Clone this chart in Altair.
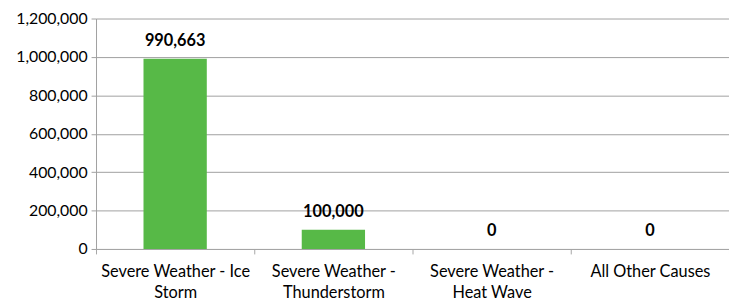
import altair as alt
import pandas as pd

categories = ["Severe Weather - Ice\nStorm", "Severe Weather -\nThunderstorm",
              "Severe Weather -\nHeat Wave", "All Other Causes"]
values = [990663, 100000, 0, 0]

df = pd.DataFrame({"cause": categories, "customers": values})

FONT = "Lato"
x = alt.X("cause:N", sort=categories, title=None,
          scale=alt.Scale(paddingInner=0, paddingOuter=0),
          axis=alt.Axis(labelExpr="isValid(datum.value) ? split(datum.value, '\\n') : ''",
                        labelAngle=0,
                        tickBand="extent", tickSize=5, labelPadding=10,
                        labelFontSize=16.5, labelLineHeight=21, labelFont=FONT,
                        labelColor="#000000", domainColor="#A6A6A6",
                        tickColor="#A6A6A6", grid=False, labelBaseline="top"))
y = alt.Y("customers:Q", title=None,
          scale=alt.Scale(domain=[0, 1200000], nice=False),
          axis=alt.Axis(values=[0, 200000, 400000, 600000, 800000, 1000000, 1200000],
                        format=",d", tickSize=5, labelPadding=4, labelFontSize=16,
                        labelFont=FONT, labelColor="#000000", domainColor="#A0A0A0",
                        tickColor="#A0A0A0", gridColor="#A0A0A0", grid=True))

bars = alt.Chart(df).mark_bar(color="#57B947", size=64).encode(x=x, y=y)
text = alt.Chart(df).mark_text(dy=-18, fontSize=16.5, fontWeight="bold", font=FONT,
                               color="#000000").encode(
    x=x, y=y, text=alt.Text("customers:Q", format=",d"))

chart = (bars + text).properties(
    width=640, height=233,
    autosize=alt.AutoSizeParams(type="none"),
    padding={"left": 89, "top": 9, "right": 0, "bottom": 54},
).configure_view(stroke=None)

chart.save("out.html", embed_options={"renderer": "svg", "actions": False})
